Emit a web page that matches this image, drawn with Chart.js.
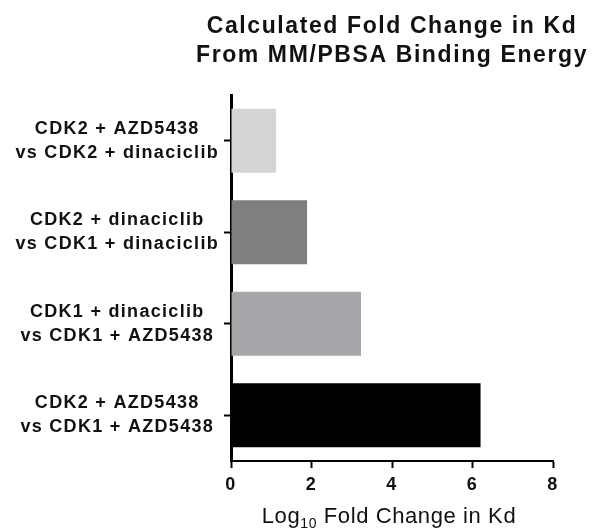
<!DOCTYPE html>
<html>
<head>
<meta charset="utf-8">
<script src="https://cdn.jsdelivr.net/npm/chart.js@4"></script>
<style>
  html, body { margin: 0; padding: 0; background: #fff; }
  #wrap { width: 598px; height: 532px; }
</style>
</head>
<body>
<div id="wrap"><canvas id="kdChart" width="598" height="532"></canvas></div>
<script>
// comparisons (two-line labels) and log10 fold change values
var comparisons = [
    ['CDK2 + AZD5438', 'vs CDK2 + dinaciclib'],
    ['CDK2 + dinaciclib', 'vs CDK1 + dinaciclib'],
    ['CDK1 + dinaciclib', 'vs CDK1 + AZD5438'],
    ['CDK2 + AZD5438', 'vs CDK1 + AZD5438']
];
var foldChange = [1.12, 1.89, 3.23, 6.2];
var xTicks = [0, 2, 4, 6, 8];
var titleLines = ['Calculated Fold Change in Kd', 'From MM/PBSA Binding Energy'];

var barColors = ['#d4d4d4', '#7f7f7f', '#a6a6aa', '#000000'];
var fontName = '"Liberation Sans", Arial, sans-serif';

// spacing for the wide-looking labels + custom title / axis title
var textPlugin = {
    id: 'textPlugin',
    beforeDraw: function(chart) {
        chart.ctx.letterSpacing = '1.3px';
    },
    afterDraw: function(chart) {
        var ctx = chart.ctx;
        var area = chart.chartArea;
        var cx = (area.left + area.right) / 2;
        ctx.save();
        ctx.fillStyle = '#111';
        ctx.textAlign = 'center';
        ctx.textBaseline = 'alphabetic';
        ctx.font = 'bold 23px ' + fontName;
        ctx.letterSpacing = '1.6px';
        ctx.fillText(titleLines[0], cx, 33);
        ctx.fillText(titleLines[1], cx, 62);

        // x axis title with subscript
        ctx.letterSpacing = '0.6px';
        var big = '22px ' + fontName, small = '14px ' + fontName;
        var p1 = 'Log', p2 = '10', p3 = ' Fold Change in Kd';
        ctx.font = big;
        var w1 = ctx.measureText(p1).width, w3 = ctx.measureText(p3).width;
        ctx.font = small;
        var w2 = ctx.measureText(p2).width;
        var x = cx - 3 - (w1 + w2 + w3) / 2;
        var y = 523;
        ctx.textAlign = 'left';
        ctx.font = big;
        ctx.fillText(p1, x, y);
        ctx.font = small;
        ctx.fillText(p2, x + w1, y + 5);
        ctx.font = big;
        ctx.fillText(p3, x + w1 + w2, y);
        ctx.restore();
    }
};

var ctx = document.getElementById('kdChart').getContext('2d');
var kdChart = new Chart(ctx, {
    type: 'bar',
    data: {
        labels: comparisons,
        datasets: [{
            data: foldChange,
            backgroundColor: barColors,
            borderWidth: 0,
            categoryPercentage: 1,
            barPercentage: 0.7
        }]
    },
    options: {
        indexAxis: 'y',
        responsive: false,
        animation: false,
        layout: { padding: { top: 95, right: 45, left: 0, bottom: 0 } },
        plugins: {
            legend: { display: false },
            title: { display: false },
            tooltip: { enabled: false }
        },
        scales: {
            x: {
                min: 0,
                max: 8,
                z: 1,
                afterBuildTicks: function(scale) {
                    scale.ticks = xTicks.map(function(v) { return { value: v }; });
                },
                afterFit: function(scale) { scale.height = 71; },
                border: { display: true, color: '#000', width: 2 },
                grid: { drawOnChartArea: false, drawTicks: true, tickLength: 7, tickWidth: 2, tickColor: '#000' },
                ticks: {
                    color: '#111',
                    padding: 6,
                    font: { family: fontName, size: 18, weight: 'bold' }
                }
            },
            y: {
                z: 1,
                afterFit: function(scale) { scale.width = 231; },
                border: { display: true, color: '#000', width: 3 },
                grid: { offset: false, drawOnChartArea: false, drawTicks: true, tickLength: 7, tickWidth: 2, tickColor: '#000' },
                ticks: {
                    color: '#111',
                    padding: 18,
                    crossAlign: 'center',
                    font: { family: fontName, size: 18, weight: 'bold', lineHeight: 1.33 }
                }
            }
        }
    },
    plugins: [textPlugin]
});
</script>
</body>
</html>
